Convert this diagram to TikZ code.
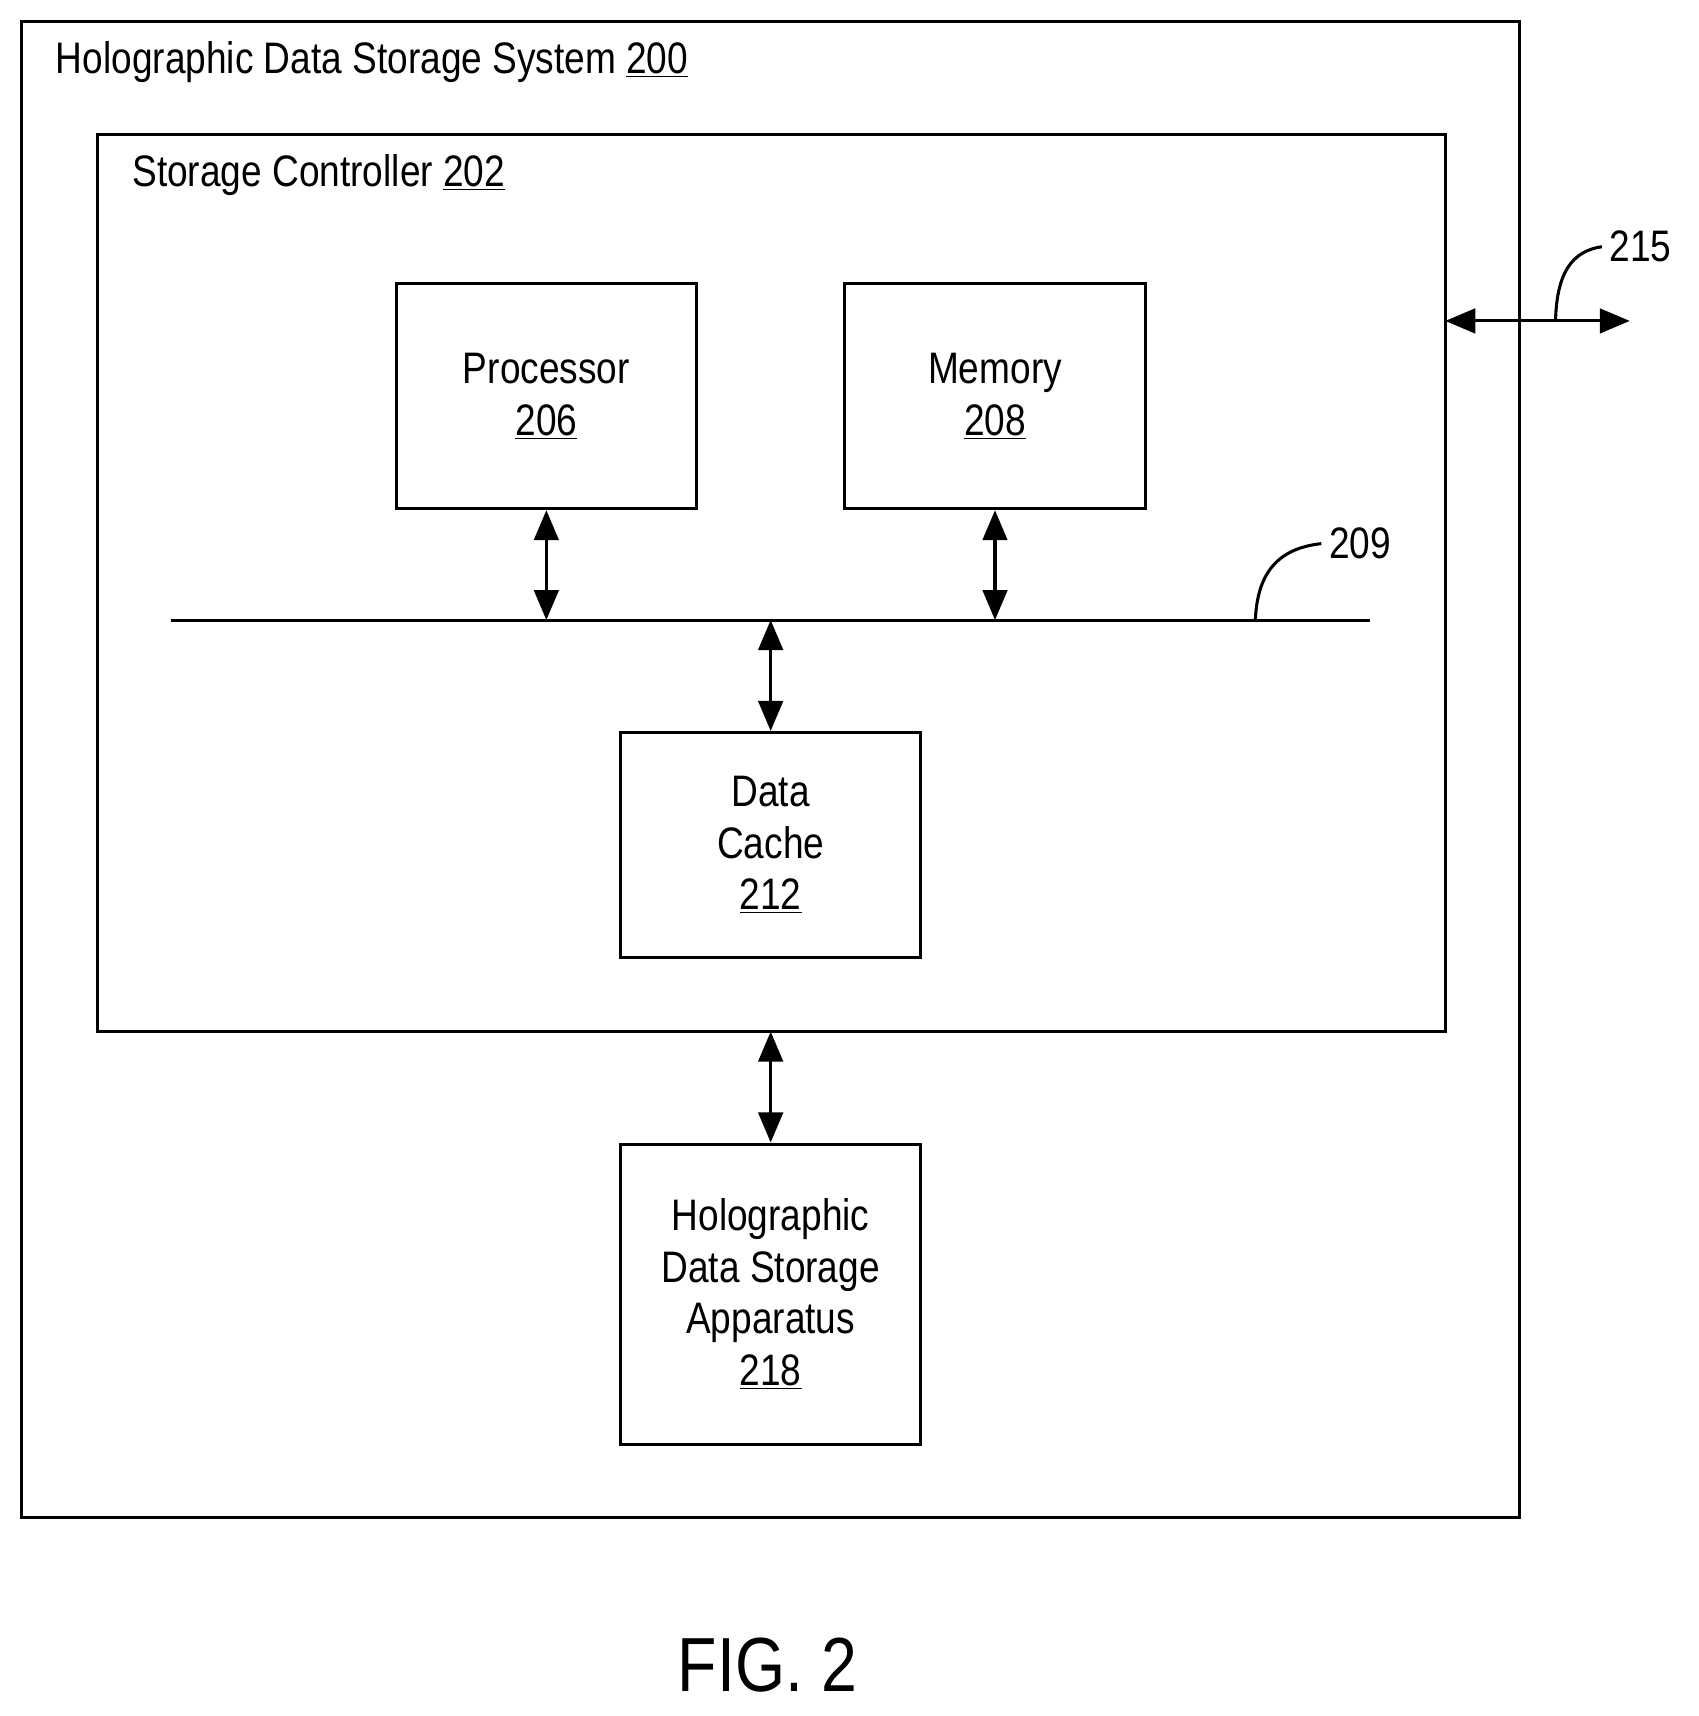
\documentclass[tikz,border=0pt]{standalone}
\usepackage{fontspec}
\setmainfont{Liberation Sans}[FakeStretch=0.84]
\usetikzlibrary{arrows.meta}
\begin{document}
\begin{tikzpicture}[x=0.02cm,y=-0.02cm,line width=1.6pt,
	box/.style={draw,minimum width=5.5cm,minimum height=4.12cm,align=center,font=\fontsize{23}{27}\selectfont},
	lbl/.style={font=\fontsize{23}{27}\selectfont},
	link/.style={{Triangle[length=0.55cm,width=0.45cm]}-{Triangle[length=0.55cm,width=0.45cm]}}]
	\useasboundingbox (0,0) rectangle (1556,1572);
	% frames
	\draw (20,20) rectangle (1392,1390);
	\node[lbl,anchor=west] (sys) at (44,57) {Holographic Data Storage System \underline{200}};
	\draw (89,123) rectangle (1324,945);
	\node[lbl,anchor=west] (ctl) at (114,160) {Storage Controller \underline{202}};
	% blocks
	\node[box] (proc) at (500.5,363) {Processor\\\underline{206}};
	\node[box] (mem) at (911.5,363) {Memory\\\underline{208}};
	\node[box] (cache) at (706,774) {Data\\Cache\\\underline{212}};
	\node[box,minimum height=5.5cm] (hdsa) at (706,1185.5) {Holographic\\Data Storage\\Apparatus\\\underline{218}};
	% bus
	\coordinate (bl) at (157,568);
	\coordinate (br) at (1255,568);
	\draw (bl) -- (br);
	\coordinate (bp) at (500.5,568);
	\coordinate (bm) at (911.5,568);
	\coordinate (bc) at (706,568);
	\node[lbl] (n209) at (1246,498) {209};
	\draw (1150,568) .. controls (1152,520) and (1175,502) .. (n209.west);
	% connections
	\draw[link] (proc.south) -- (bp);
	\draw[link] (mem.south) -- (bm);
	\draw[link] (bc) -- (cache.north);
	\coordinate (cb) at (706,945);
	\draw[link] (cb) -- (hdsa.north);
	% external
	\coordinate (ex) at (1324,294);
	\coordinate (ey) at (1493,294);
	\draw[link] (ex) -- (ey);
	\node[lbl] (n215) at (1503,226) {215};
	\draw (1425,294) .. controls (1426,250) and (1440,230) .. (n215.west);
	\node[font=\fontsize{40}{48}\selectfont] (fig) at (703,1525) {FIG. 2};
\end{tikzpicture}
\end{document}
